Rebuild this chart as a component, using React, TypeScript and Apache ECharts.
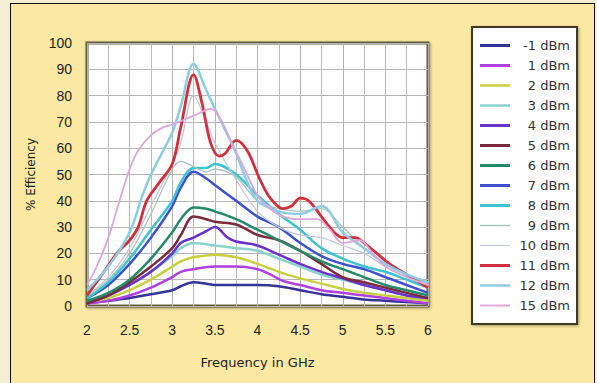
import React, { useEffect, useRef } from 'react';
import * as echarts from 'echarts';

type Pt = [number, number];

const seriesNames = ['-1 dBm', '1 dBm', '2 dBm', '3 dBm', '4 dBm', '5 dBm', '6 dBm', '7 dBm', '8 dBm', '9 dBm', '10 dBm', '11 dBm', '12 dBm', '15 dBm'];

const dBmM1: Pt[] = [[2,1],[2.25,2],[2.5,3],[2.75,4.5],[3,6],[3.1,7.5],[3.25,9],[3.4,8.5],[3.5,8],[3.75,8],[4,8],[4.25,7.5],[4.5,6],[4.75,4.5],[5,3.5],[5.25,2.5],[5.5,2],[5.75,1.5],[6,1]];
const dBm1: Pt[] = [[2,1],[2.25,2],[2.5,4],[2.75,7],[3,11],[3.1,13],[3.25,14],[3.5,15],[3.75,15],[4,14],[4.15,12],[4.3,9.5],[4.5,8],[4.75,6],[5,5],[5.25,4],[5.5,3],[5.75,2],[6,1]];
const dBm2: Pt[] = [[2,1.5],[2.25,3],[2.5,6],[2.75,10],[3,15],[3.1,17],[3.25,18.5],[3.5,19.5],[3.75,18.5],[4,16],[4.25,13],[4.5,10.5],[4.75,8.5],[5,6.5],[5.25,5],[5.5,4],[5.75,3],[6,2]];
const dBm3: Pt[] = [[2,2],[2.25,4],[2.5,8],[2.75,13],[3,19],[3.1,22],[3.25,24],[3.5,23],[3.75,22],[4,21],[4.25,18],[4.5,15],[4.75,12],[5,10],[5.25,8],[5.5,6],[5.75,4],[6,3]];
const dBm4: Pt[] = [[2,1],[2.25,4],[2.5,8],[2.75,13],[3,20],[3.1,24],[3.25,26],[3.4,28.5],[3.5,30],[3.65,26],[3.75,24.5],[4,23],[4.25,19.5],[4.5,16],[4.75,13],[5,10.5],[5.25,8],[5.5,6],[5.75,4],[6,3]];
const dBm5: Pt[] = [[2,1],[2.25,4],[2.5,9],[2.75,15],[3,22],[3.1,27],[3.25,34],[3.4,33],[3.5,32],[3.75,31],[4,27],[4.25,25],[4.5,21],[4.75,16],[5,11],[5.25,9],[5.5,7],[5.75,5],[6,3]];
const dBm6: Pt[] = [[2,2],[2.25,5],[2.5,10],[2.75,18],[3,28],[3.1,33],[3.25,37.5],[3.4,37],[3.5,36],[3.75,33],[4,29],[4.25,25],[4.5,21],[4.75,17],[5,14],[5.25,11],[5.5,8],[5.75,6],[6,4]];
const dBm7: Pt[] = [[2,3],[2.25,8],[2.5,16],[2.75,26],[3,38],[3.1,45],[3.25,51],[3.4,48.5],[3.5,46],[3.75,40],[4,34],[4.25,30],[4.5,24],[4.75,19],[5,16],[5.25,14],[5.5,11],[5.75,8],[6,5]];
const dBm8: Pt[] = [[2,3],[2.25,9],[2.5,18],[2.75,29],[3,40],[3.1,47],[3.25,52.5],[3.4,52.5],[3.5,54],[3.75,50],[4,42],[4.25,35],[4.5,29],[4.75,22],[5,18],[5.25,15],[5.5,13],[5.75,10],[6,7]];
const dBm9: Pt[] = [[2,4],[2.25,10],[2.5,20],[2.75,35],[3,52],[3.1,55],[3.25,53],[3.4,51],[3.5,52],[3.75,49],[4,40],[4.25,37],[4.5,36],[4.75,37],[5,30],[5.25,22],[5.5,16],[5.75,12],[6,8]];
const dBm10: Pt[] = [[2,4],[2.25,11],[2.5,22],[2.75,38],[3,54],[3.1,62],[3.25,80],[3.4,70],[3.5,62],[3.75,48],[4,36],[4.25,30],[4.5,27],[4.75,26],[5,23],[5.25,20],[5.5,15],[5.75,11],[6,8]];
const dBm11: Pt[] = [[2,4],[2.2,13],[2.35,20],[2.5,25],[2.6,30],[2.7,40],[2.85,47],[3,54],[3.1,68],[3.25,88],[3.35,77],[3.45,62],[3.55,57],[3.62,58],[3.75,63],[3.88,59],[4.03,48],[4.15,41],[4.3,37],[4.4,38],[4.5,41],[4.6,40],[4.75,34],[4.9,28],[5,26],[5.15,26],[5.25,24],[5.4,20],[5.55,16],[5.75,12],[6,7]];
const dBm12: Pt[] = [[2,6],[2.25,15],[2.5,28],[2.65,42],[2.75,50],[3,66],[3.1,76],[3.25,92],[3.4,82],[3.5,75],[3.75,58],[3.87,48],[4,40],[4.25,36],[4.5,35],[4.75,38],[5,28],[5.25,22],[5.5,16],[5.75,12],[6,9]];
const dBm15: Pt[] = [[2,8],[2.1,14],[2.25,26],[2.4,42],[2.5,52],[2.6,59],[2.75,65],[2.9,68],[3,69],[3.15,71],[3.3,73],[3.45,75],[3.55,72],[3.7,62],[3.85,52],[4,42],[4.15,37],[4.3,34],[4.5,33],[4.7,33],[4.85,29],[5,24],[5.2,25],[5.35,20],[5.5,15],[5.75,11],[6,8]];

const seriesData: Pt[][] = [dBmM1, dBm1, dBm2, dBm3, dBm4, dBm5, dBm6, dBm7, dBm8, dBm9, dBm10, dBm11, dBm12, dBm15];
const seriesColors = ['#35329a', '#b040e0', '#c8d040', '#88d4cc', '#6a30c8', '#7a2a3a', '#238a6a', '#3c50d0', '#3cc4d0', '#a8c4bc', '#c4c8d6', '#d0303c', '#8ccde4', '#dca8dc'];
const seriesWidths = [2.5, 2.5, 2.5, 2.5, 2.5, 2.5, 2.5, 2.5, 2.5, 1.3, 1.3, 2.8, 2.5, 1.8];
const legendIconHeights = [3, 3, 2.5, 2.5, 3, 3, 3, 3, 3, 1.5, 1.2, 3, 2.5, 2];

const FONT = '"Liberation Sans", Arial, sans-serif';
const LEGEND_FONT = '"DejaVu Sans", Verdana, sans-serif';

export default function App() {
  const ref = useRef<HTMLDivElement>(null);
  useEffect(() => {
    if (!ref.current) return;
    const chart = echarts.init(ref.current, undefined, { renderer: 'svg' });
    chart.setOption({
      animation: false,
      backgroundColor: 'transparent',
      textStyle: { fontFamily: FONT },
      grid: {
        left: 87, right: 169, top: 43, bottom: 77,
        show: true, backgroundColor: '#ffffff',
        borderColor: '#625d3c', borderWidth: 3,
        shadowColor: 'rgba(0,0,0,0.35)', shadowBlur: 3, shadowOffsetX: 1, shadowOffsetY: 1,
      },
      legend: {
        orient: 'vertical', left: 472, top: 27,
        backgroundColor: '#ffffff', borderColor: '#3f3a22', borderWidth: 2,
        shadowColor: 'rgba(0,0,0,0.35)', shadowBlur: 3, shadowOffsetX: 1, shadowOffsetY: 1,
        padding: [12, 7, 12, 8],
        itemWidth: 30, itemHeight: 12, itemGap: 7,
        data: seriesNames.map((n, i) => ({ name: n, icon: 'path://M0,0H30V' + legendIconHeights[i] + 'H0Z' })),
        formatter: (n: string) => '{a|' + n + '}',
        textStyle: {
          fontFamily: LEGEND_FONT, color: '#333', lineHeight: 12,
          rich: { a: { width: 55, height: 12, lineHeight: 12, align: 'right', fontSize: 13, fontFamily: LEGEND_FONT, color: '#333' } },
        },
      },
      xAxis: {
        type: 'value', min: 2, max: 6, interval: 0.5,
        name: 'Frequency in GHz', nameLocation: 'middle', nameGap: 50,
        nameTextStyle: { fontSize: 13, color: '#222', fontFamily: LEGEND_FONT },
        axisLine: { show: false }, axisTick: { show: false },
        axisLabel: { fontSize: 14, color: '#222', margin: 17, fontFamily: FONT },
        splitLine: { show: true, lineStyle: { color: '#b4b4b4', width: 1 } },
        minorTick: { show: false, splitNumber: 2 },
        minorSplitLine: { show: true, lineStyle: { color: '#bdbdbd', width: 1 } },
      },
      yAxis: {
        type: 'value', min: 0, max: 100, interval: 10,
        name: '% Efficiency', nameLocation: 'middle', nameGap: 50,
        nameTextStyle: { fontSize: 12, color: '#222', fontFamily: LEGEND_FONT },
        axisLine: { show: false }, axisTick: { show: false },
        axisLabel: { fontSize: 14, color: '#222', margin: 15, fontFamily: FONT },
        splitLine: { show: true, lineStyle: { color: '#b4b4b4', width: 1 } },
      },
      series: seriesNames.map((name, i) => ({
        name,
        type: 'line',
        data: seriesData[i],
        smooth: 0.35,
        symbol: 'none',
        color: seriesColors[i],
        lineStyle: { color: seriesColors[i], width: seriesWidths[i] },
      })),
    });
    return () => chart.dispose();
  }, []);

  return (
    <div style={{ position: 'absolute', left: 0, top: 0, width: 597, height: 383, background: '#f4efd3', overflow: 'hidden' }}>
      <div style={{ position: 'absolute', left: 10, top: 3, width: 583, height: 400, border: '1px solid #111', background: '#fbe9a3' }} />
      <div ref={ref} style={{ position: 'absolute', left: 0, top: 0, width: 597, height: 383 }} />
    </div>
  );
}
